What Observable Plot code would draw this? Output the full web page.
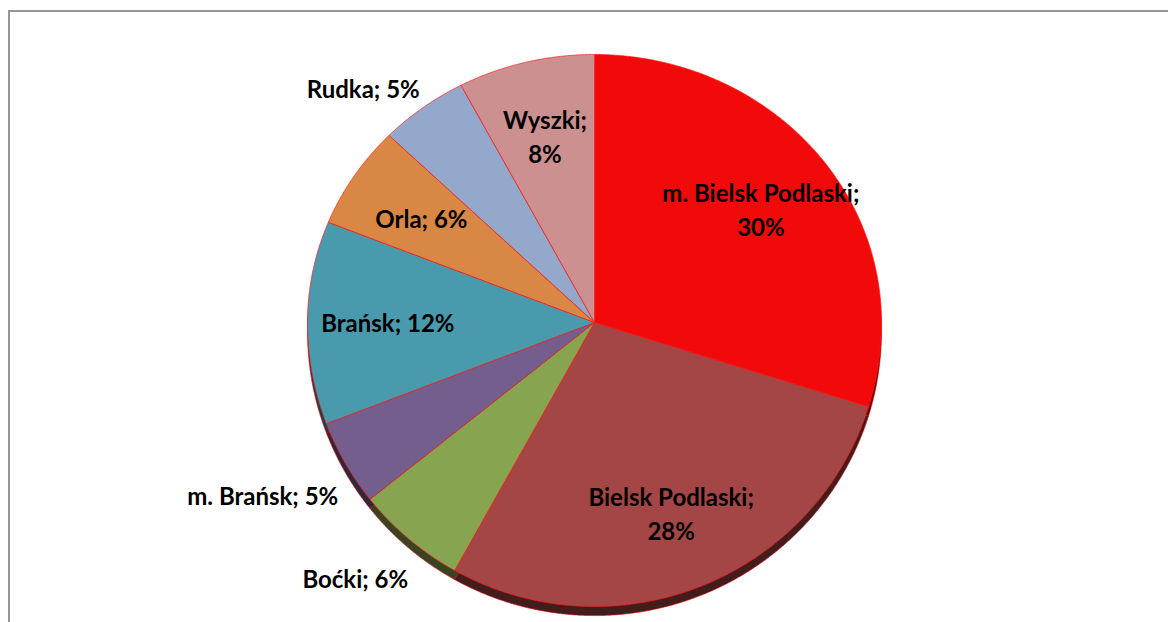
<!DOCTYPE html>
<html>
<head>
<meta charset="utf-8">
<script src="https://cdn.jsdelivr.net/npm/d3@7"></script>
<script src="https://cdn.jsdelivr.net/npm/@observablehq/plot@0.6"></script>
<style>
  html, body { margin: 0; padding: 0; background: #fff; overflow: hidden; }
  #frame { position: absolute; left: 8px; top: 10px; width: 1200px; height: 700px;
           border-left: 2px solid #969696; border-top: 2px solid #969696; }
  #chart { position: absolute; left: 0; top: 0; }
</style>
</head>
<body>
<div id="frame"></div>
<div id="chart"></div>
<script>
// ---- data ----
const names = ["m. Bielsk Podlaski", "Bielsk Podlaski", "Boćki", "m. Brańsk", "Brańsk", "Orla", "Rudka", "Wyszki"];
const shares = [29.8, 28.3, 6.2, 4.9, 11.9, 6.2, 5.0, 7.7];
const outsideLabels = ["Boćki", "m. Brańsk", "Rudka"];
const wrappedLabels = ["m. Bielsk Podlaski", "Bielsk Podlaski", "Wyszki"];

// ---- styles ----
const palette = ["#f20a0a", "#a44645", "#87a450", "#745e8e", "#4a9aad", "#d98744", "#94a8cb", "#cc9090"];
const depth = 0.032;        // 3D side thickness (data units)
const innerR = 0.72, outerR = 1.1;
const font = "Lato, 'Open Sans', sans-serif";
const fs = 24;

// ---- geometry from data ----
const total = d3.sum(shares);
const cum = [0, ...d3.cumsum(shares)];
const slices = names.map((name, i) => ({
  name,
  color: palette[i],
  a0: 2 * Math.PI * cum[i] / total,
  a1: 2 * Math.PI * cum[i + 1] / total,
  share: shares[i]
}));

function wedge(s, dy, color) {
  const pts = [{name: s.name, fill: color, x: 0, y: dy}];
  const n = Math.max(2, Math.ceil((s.a1 - s.a0) / 0.005));
  for (let k = 0; k <= n; k++) {
    const a = s.a0 + (s.a1 - s.a0) * k / n;
    pts.push({name: s.name, fill: color, x: Math.sin(a), y: -Math.cos(a) + dy});
  }
  pts.push({name: s.name, fill: color, x: 0, y: dy});
  return pts;
}

const sidePts = slices.flatMap(s => wedge(s, depth, d3.color(s.color).darker(2.5).formatHex()));
const topPts = slices.flatMap(s => wedge(s, 0, s.color));

const labels = slices.map(s => {
  const m = (s.a0 + s.a1) / 2;
  const outside = outsideLabels.includes(s.name);
  const r = outside ? outerR : innerR;
  const pct = Math.round(s.share) + "%";
  return {
    outside,
    lower: -Math.cos(m) > 0,
    x: r * Math.sin(m),
    y: -r * Math.cos(m),
    text: wrappedLabels.includes(s.name) ? `${s.name};\n${pct}` : `${s.name}; ${pct}`
  };
});

const textStyle = {x: "x", y: "y", text: "text", fontSize: fs, fontWeight: "bold", fill: "#000"};

const chart = Plot.plot({
  width: 1168,
  height: 622,
  margin: 0,
  style: {background: "transparent", fontFamily: font},
  x: {type: "linear", domain: [-1, 0, 1], range: [307, 594, 881], axis: null},
  y: {type: "linear", domain: [-1, 0, 1], range: [54, 322, 606], axis: null},
  color: {type: "identity"},
  marks: [
    Plot.line(sidePts, {x: "x", y: "y", z: "name", fill: "fill", stroke: "#e00000", strokeWidth: 0.6, curve: "linear"}),
    Plot.line(topPts, {x: "x", y: "y", z: "name", fill: "fill", stroke: "#ff1a1a", strokeWidth: 0.7, curve: "linear"}),
    Plot.text(labels.filter(d => !d.outside), {...textStyle, textAnchor: "middle", lineHeight: 1.42}),
    Plot.text(labels.filter(d => d.outside && d.lower), {...textStyle, textAnchor: "end", dx: 18, dy: 20}),
    Plot.text(labels.filter(d => d.outside && !d.lower), {...textStyle, textAnchor: "end", dx: 14, dy: 4})
  ]
});
document.getElementById("chart").appendChild(chart);
</script>
</body>
</html>
